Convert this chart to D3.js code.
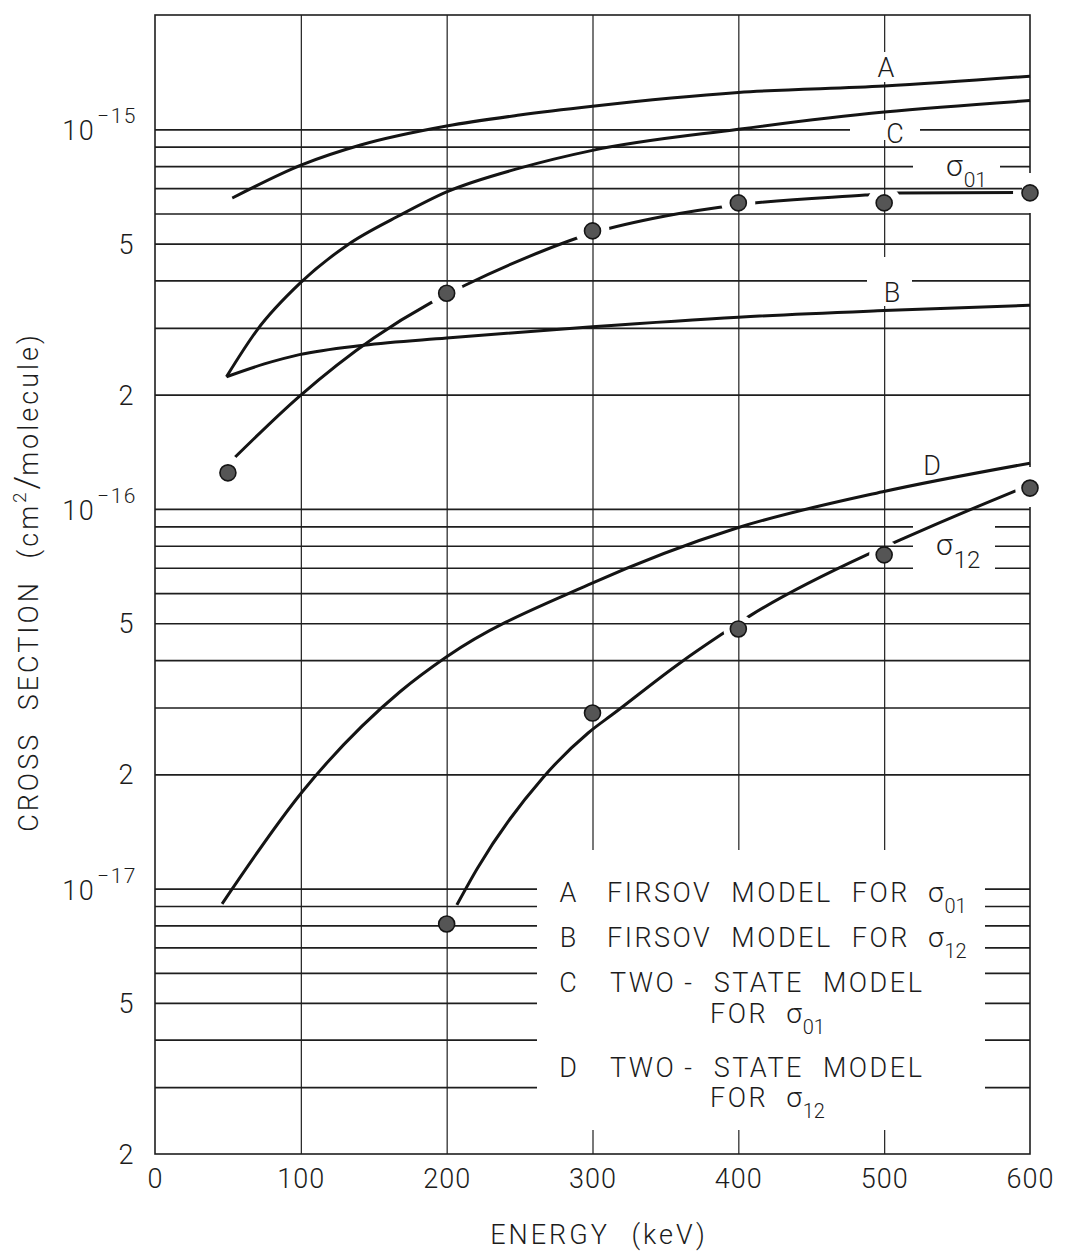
<!DOCTYPE html>
<html>
<head>
<meta charset="utf-8">
<script src="https://cdn.jsdelivr.net/npm/d3@7"></script>
<style>
  body { margin: 0; background: #fff; }
  text { font-family: Roboto, "DejaVu Sans", sans-serif; font-weight: 300; fill: #1c1c1c; }
</style>
</head>
<body>
<div id="chart"></div>
<script>

// energy (keV) / cross section (cm^2/molecule)
var xTicks = [0, 100, 200, 300, 400, 500, 600];

var yLabels = [
  {v: 1e-15, base: "10", exp: "\u221215"},
  {v: 5e-16, base: "5"},
  {v: 2e-16, base: "2"},
  {v: 1e-16, base: "10", exp: "\u221216"},
  {v: 5e-17, base: "5"},
  {v: 2e-17, base: "2"},
  {v: 1e-17, base: "10", exp: "\u221217"},
  {v: 5e-18, base: "5"},
  {v: 2e-18, base: "2"}
];

// theory curves
var curveA = [[53,6.59e-16],[101,8.07e-16],[141,9.09e-16],[200,1.02e-15],[250,1.09e-15],
              [300,1.15e-15],[400,1.25e-15],[500,1.30e-15],[600,1.38e-15]];
var curveB = [[49,2.23e-16],[75,2.41e-16],[99,2.55e-16],[143,2.70e-16],[200,2.82e-16],
              [300,3.02e-16],[400,3.20e-16],[500,3.33e-16],[600,3.44e-16]];
var curveC = [[49,2.23e-16],[70,2.96e-16],[100,3.95e-16],[132,4.96e-16],[167,5.91e-16],
              [200,6.84e-16],[250,7.9e-16],[300,8.8e-16],[400,1.0e-15],[500,1.11e-15],
              [600,1.19e-15]];
var curveD = [[46,9.12e-18],[101,1.8e-17],[168,3.3e-17],[200,4.08e-17],[297,6.31e-17],
              [399,8.91e-17],[499,1.11e-16],[600,1.32e-16]];

// measured points and the lines drawn through them
var sigma01Pts = [[50,1.245e-16],[200,3.7e-16],[300,5.4e-16],[400,6.4e-16],[500,6.4e-16],[600,6.8e-16]];
var sigma01Fit = [[55,1.37e-16],[99,1.98e-16],[150,2.82e-16],[189,3.49e-16],[213,3.89e-16],
                  [251,4.53e-16],[300,5.33e-16],[350,5.91e-16],[399,6.32e-16],[487,6.71e-16],
                  [510,6.8e-16],[600,6.82e-16]];
var sigma12Pts = [[200,8.07e-18],[300,2.9e-17],[400,4.83e-17],[500,7.57e-17],[600,1.135e-16]];
var sigma12Fit = [[207,9.06e-18],[221,1.13e-17],[266,1.96e-17],[297,2.57e-17],[315,2.9e-17],
                  [360,3.93e-17],[388,4.66e-17],[409,5.26e-17],[488,7.57e-17],[511,8.29e-17],
                  [588,1.108e-16],[600,1.157e-16]];

var W = 1066, H = 1251;
var plotL = 155, plotR = 1030, plotT = 15, plotB = 1154;

var svg = d3.select("#chart")
  .append("svg")
    .attr("width", W)
    .attr("height", H);

var x = d3.scaleLinear().domain([0, 600]).range([plotL, plotR]);
var y = d3.scaleLog().domain([2e-18, 2e-15]).range([plotB, plotT]);

// log grid: 1..9 in every decade up to 1e-15
var yGrid = [];
[-18, -17, -16].forEach(function(e) {
  for (var k = 1; k <= 9; k++) {
    var v = k * Math.pow(10, e);
    if (v > 2e-18 * 1.0001) yGrid.push(v);
  }
});
yGrid.push(1e-15);

svg.append("g")
    .attr("transform", "translate(" + plotL + ",0)")
    .call(d3.axisLeft(y).tickValues(yGrid).tickSize(-(plotR - plotL)).tickFormat(""))
    .call(function(g) { g.select(".domain").remove(); })
  .selectAll("line")
    .attr("stroke", "#1e1e1e")
    .attr("stroke-width", 1.7);

svg.append("g")
    .attr("transform", "translate(0," + plotB + ")")
    .call(d3.axisBottom(x).tickValues([100, 200, 300, 400, 500]).tickSize(-(plotB - plotT)).tickFormat(""))
    .call(function(g) { g.select(".domain").remove(); })
  .selectAll("line")
    .attr("stroke", "#1e1e1e")
    .attr("stroke-width", 1.2);

svg.append("rect")
    .attr("x", plotL).attr("y", plotT)
    .attr("width", plotR - plotL).attr("height", plotB - plotT)
    .attr("fill", "none")
    .attr("stroke", "#1e1e1e")
    .attr("stroke-width", 1.6);

// white patches where the grid is broken for lettering
var knockouts = [
  [876, 52, 20, 30],    // A
  [850, 120, 70, 20],   // C
  [913, 155, 87, 23],   // sigma01
  [1022, 173, 16, 40],  // border beside last sigma01 point
  [867, 257, 45, 49],   // B
  [913, 520, 82, 60],   // sigma12
  [1022, 467, 16, 40],  // border beside last sigma12 point
  [537, 850, 448, 280]  // key
];
svg.append("g").selectAll("rect")
  .data(knockouts)
  .join("rect")
    .attr("x", function(d) { return d[0]; })
    .attr("y", function(d) { return d[1]; })
    .attr("width", function(d) { return d[2]; })
    .attr("height", function(d) { return d[3]; })
    .attr("fill", "#fff");

// axis labels
var xAx = svg.append("g")
    .attr("transform", "translate(0," + plotB + ")")
    .call(d3.axisBottom(x).tickValues(xTicks).tickSize(0).tickPadding(25));
xAx.select(".domain").remove();
xAx.selectAll("text")
    .attr("font-size", 27)
    .attr("dy", "0.35em")
    .attr("fill", "#1c1c1c")
    .style("letter-spacing", "1px");

var yl = svg.append("g").selectAll("text")
  .data(yLabels)
  .join("text")
    .attr("text-anchor", "end")
    .attr("x", function(d) { return d.exp ? 137 : 135; })
    .attr("y", function(d) { return y(d.v) + (d.exp ? 11 : 10); })
    .attr("font-size", 27)
    .style("letter-spacing", "1.5px");
yl.append("tspan").text(function(d) { return d.base; });
yl.filter(function(d) { return d.exp; })
  .append("tspan")
    .attr("dy", -17)
    .attr("dx", 2)
    .attr("font-size", 21)
    .text(function(d) { return d.exp; });

svg.append("text")
    .attr("x", 599)
    .attr("y", 1244)
    .attr("text-anchor", "middle")
    .attr("font-size", 27)
    .style("letter-spacing", "3px")
    .style("word-spacing", "12px")
    .text("ENERGY (keV)");

var yt = svg.append("text")
    .attr("transform", "translate(38,582) rotate(-90)")
    .attr("text-anchor", "middle")
    .attr("font-size", 27)
    .style("letter-spacing", "3px")
    .style("word-spacing", "12px");
yt.append("tspan").text("CROSS SECTION (cm");
yt.append("tspan").attr("font-size", 19).attr("dy", -12).text("2");
yt.append("tspan").attr("font-size", 34).attr("dy", 12).style("letter-spacing", "0px").text("/");
yt.append("tspan").text("molecule)");

// curves
var line = d3.line()
    .x(function(d) { return x(d[0]); })
    .y(function(d) { return y(d[1]); })
    .curve(d3.curveMonotoneX);

var defs = svg.append("defs");
function gapMask(id, pts, r) {
  var m = defs.append("mask").attr("id", id)
      .attr("maskUnits", "userSpaceOnUse")
      .attr("x", 0).attr("y", 0).attr("width", W).attr("height", H);
  m.append("rect").attr("width", W).attr("height", H).attr("fill", "#fff");
  m.selectAll("circle").data(pts).join("circle")
      .attr("cx", function(d) { return x(d[0]); })
      .attr("cy", function(d) { return y(d[1]); })
      .attr("r", r)
      .attr("fill", "#000");
}
gapMask("gap01", sigma01Pts, 17);
// the sigma12 line runs past the 300 keV point without a break
gapMask("gap12", sigma12Pts.filter(function(d) { return d[0] !== 300; }), 15);

[curveA, curveB, curveC, curveD].forEach(function(c) {
  svg.append("path")
      .datum(c)
      .attr("d", line)
      .attr("fill", "none")
      .attr("stroke", "#141414")
      .attr("stroke-width", 3)
      .attr("stroke-linejoin", "round");
});

svg.append("path")
    .datum(sigma01Fit)
    .attr("d", line)
    .attr("fill", "none")
    .attr("stroke", "#141414")
    .attr("stroke-width", 3)
    .attr("mask", "url(#gap01)");

svg.append("path")
    .datum(sigma12Fit)
    .attr("d", line)
    .attr("fill", "none")
    .attr("stroke", "#141414")
    .attr("stroke-width", 3)
    .attr("mask", "url(#gap12)");

svg.append("g").selectAll("circle")
  .data(sigma01Pts.concat(sigma12Pts))
  .join("circle")
    .attr("cx", function(d) { return x(d[0]); })
    .attr("cy", function(d) { return y(d[1]); })
    .attr("r", 8)
    .attr("fill", "#555")
    .attr("stroke", "#151515")
    .attr("stroke-width", 1.6);

// curve letters
var curveLabels = [
  {t: "A", x: 886, y: 77},
  {t: "C", x: 895, y: 143},
  {t: "B", x: 892, y: 302},
  {t: "D", x: 932, y: 475}
];
svg.append("g").selectAll("text")
  .data(curveLabels)
  .join("text")
    .attr("x", function(d) { return d.x; })
    .attr("y", function(d) { return d.y; })
    .attr("text-anchor", "middle")
    .attr("font-size", 27)
    .text(function(d) { return d.t; });

function sigma(g, x0, y0, sub, big, small, drop) {
  var t = g.append("text").attr("x", x0).attr("y", y0).attr("font-size", big);
  t.append("tspan").text("\u03c3");
  t.append("tspan").attr("font-size", small).attr("dy", drop).attr("dx", 1).text(sub);
  return t;
}
sigma(svg, 946, 176, "01", 30, 21, 11);
sigma(svg, 936, 555, "12", 30, 24, 13);

// key
var keyRows = [
  {k: "A", t: "FIRSOV MODEL FOR", s: "01", y: 902, x: 607},
  {k: "B", t: "FIRSOV MODEL FOR", s: "12", y: 947, x: 607},
  {k: "C", t: "TWO\u2009- STATE MODEL", y: 992, x: 610},
  {t: "FOR", s: "01", y: 1023, x: 710},
  {k: "D", t: "TWO\u2009- STATE MODEL", y: 1077, x: 610},
  {t: "FOR", s: "12", y: 1107, x: 710}
];
var key = svg.append("g");
keyRows.forEach(function(r) {
  if (r.k) {
    key.append("text")
        .attr("x", 568).attr("y", r.y)
        .attr("text-anchor", "middle")
        .attr("font-size", 27)
        .text(r.k);
  }
  var t = key.append("text")
      .attr("x", r.x).attr("y", r.y)
      .attr("font-size", 27)
      .style("letter-spacing", "2.5px")
      .style("word-spacing", "10px")
      .text(r.t);
  if (r.s) {
    var w = t.node().getComputedTextLength();
    sigma(key, r.x + w + 18, r.y, r.s, 28, 20, 11);
  }
});

</script>
</body>
</html>
